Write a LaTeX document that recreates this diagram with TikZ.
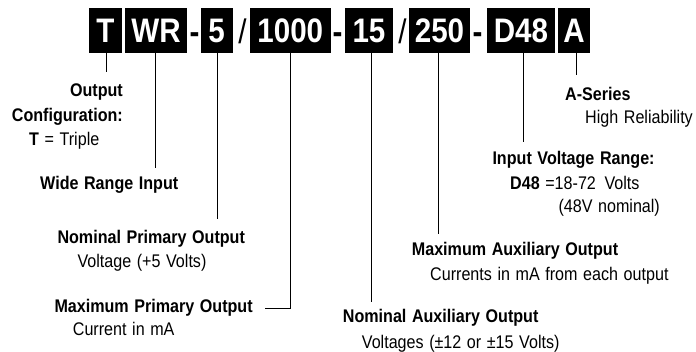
\documentclass[tikz,border=0pt]{standalone}
\usepackage{fontspec}
\setmainfont{Liberation Sans}[FakeStretch=0.88,WordSpace=1.25]
\newfontfamily\bigfont{Liberation Sans}[FakeStretch=0.87]
\begin{document}
\begin{tikzpicture}[x=1pt,y=-1pt,
  code/.style={fill=black,text=white,font=\bigfont\fontsize{34}{34}\selectfont\bfseries,
    inner sep=0pt,minimum height=45pt,text height=24.4pt,text depth=0pt,anchor=center},
  sep/.style={font=\bigfont\fontsize{34}{34}\selectfont\bfseries,inner sep=0pt,anchor=base},
  slash/.style={font=\bigfont\fontsize{34}{34}\selectfont,inner sep=0pt,anchor=base},
  lbl/.style={font=\fontsize{18.3}{20}\selectfont,inner sep=0pt,anchor=base west},
  blbl/.style={lbl,font=\fontsize{18.3}{20}\selectfont\bfseries},
  lead/.style={line width=0.8pt}]
\useasboundingbox (0,0) rectangle (696,352);
% code boxes
\node[code,minimum width=33pt] (T) at (105.5,30.7) {T};
\node[code,minimum width=62pt] (WR) at (156,30.7) {WR};
\node[code,minimum width=32pt] (V5) at (216.7,30.7) {5};
\node[code,minimum width=80.7pt] (I1000) at (290.3,30.7) {1000};
\node[code,minimum width=48pt] (V15) at (369,30.7) {15};
\node[code,minimum width=61pt] (I250) at (439.5,30.7) {250};
\node[code,minimum width=68pt] (D48) at (521,30.7) {D48};
\node[code,minimum width=32pt] (A) at (574,30.7) {A};
% separators
\node[sep] (s1) at (194.5,43.5) {-};
\node[slash] (s2) at (242.5,43.5) {/};
\node[sep] (s3) at (337.5,43.5) {-};
\node[slash] (s4) at (402.5,43.5) {/};
\node[sep] (s5) at (477.5,43.5) {-};
% leader ends
\coordinate (eT) at (106,72);
\coordinate (eWR) at (155,168);
\coordinate (e5) at (217,219);
\coordinate (e1000) at (290,308);
\coordinate (e1000b) at (265,308);
\coordinate (e15) at (371,302);
\coordinate (e250) at (438.5,234);
\coordinate (eD48) at (523.5,142);
\coordinate (eA) at (576,75);
\draw[lead] (eT |- T.south) -- (eT);
\draw[lead] (eWR |- WR.south) -- (eWR);
\draw[lead] (e5 |- V5.south) -- (e5);
\draw[lead] (e1000 |- I1000.south) -- (e1000) -- (e1000b);
\draw[lead] (e15 |- V15.south) -- (e15);
\draw[lead] (e250 |- I250.south) -- (e250);
\draw[lead] (eD48 |- D48.south) -- (eD48);
\draw[lead] (eA |- A.south) -- (eA);
% labels
\node[blbl,anchor=base east] (l1) at (123,96.7) {Output};
\node[blbl,anchor=base east] (l2) at (123,121.7) {Configuration:};
\node[lbl] (l3) at (29,146) {\textbf{T} = Triple};
\node[blbl] (l4) at (40,189.3) {Wide Range Input};
\node[blbl] (l5) at (57.3,243.3) {Nominal Primary Output};
\node[lbl] (l6) at (77.3,267.3) {Voltage (+5 Volts)};
\node[blbl] (l7) at (54.3,312.7) {Maximum Primary Output};
\node[lbl] (l8) at (72.7,336) {Current in mA};
\node[blbl] (r1) at (565,100.7) {A-Series};
\node[lbl] (r2) at (585,124) {High Reliability};
\node[blbl] (r3) at (492.3,165) {Input Voltage Range:};
\node[lbl] (r4) at (510,189.3) {\textbf{D48} =18-72\ \,Volts};
\node[lbl] (r5) at (558.3,213) {(48V nominal)};
\node[blbl] (r6) at (411.7,256) {Maximum Auxiliary Output};
\node[lbl] (r7) at (430,281) {Currents in mA from each output};
\node[blbl] (r8) at (342.7,322.7) {Nominal Auxiliary Output};
\node[lbl] (r9) at (361.7,349) {Voltages (±12 or ±15 Volts)};
\end{tikzpicture}
\end{document}
